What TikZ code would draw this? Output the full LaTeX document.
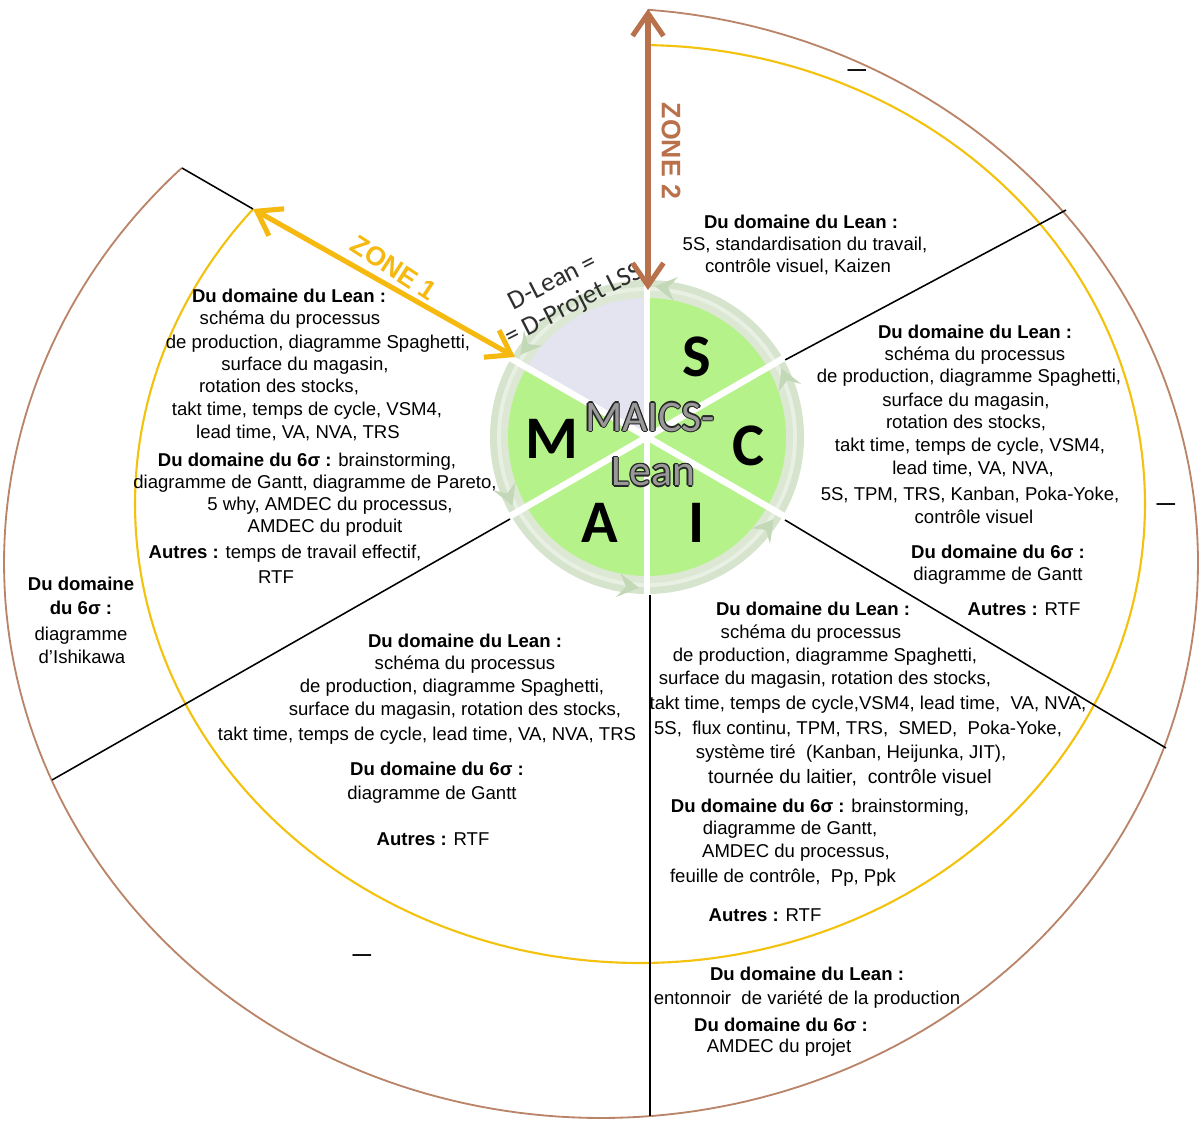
\documentclass[tikz,border=0pt]{standalone}
\usepackage{fontspec}
\setmainfont{Liberation Sans}
\newfontfamily\calib{Carlito}
\usetikzlibrary{arrows.meta}
\definecolor{pgreen}{HTML}{B6F28A}
\definecolor{pgrey}{HTML}{E4E4F0}
\definecolor{pring}{HTML}{D6E4CD}
\definecolor{ptip}{HTML}{C3D8B6}
\definecolor{zyellow}{HTML}{F5B90F}
\definecolor{eyellow}{HTML}{F2C20E}
\definecolor{zbrown}{HTML}{B9714C}
\definecolor{ebrown}{HTML}{BA8468}
\begin{document}
\begin{tikzpicture}[x=0.025cm,y=-0.025cm,
  t/.style={anchor=mid,inner sep=0pt,font=\fontsize{13.2}{16}\selectfont},
  sepline/.style={black,line width=1.1pt},
  zarrow/.style={line width=3.6pt,{Straight Barb[length=16pt,width=22pt]}-{Straight Barb[length=16pt,width=22pt]}},
  mtxt/.style={inner sep=0pt,font=\calib\fontsize{31}{34}\selectfont},
  letter/.style={inner sep=0pt,font=\calib\bfseries\fontsize{43}{43}\selectfont},
  ztxt/.style={inner sep=0pt,font=\bfseries\fontsize{19}{19}\selectfont},
  dashmark/.style={inner sep=0pt,font=\bfseries\fontsize{13.2}{16}\selectfont}]
\useasboundingbox[fill=white] (0,0) rectangle (1201,1120);

% outer arcs
\draw[ebrown,line width=1.3pt] plot[domain=85.5:-225.4,samples=240] ({601+597*cos(\x)},{563-555*sin(\x)});
\draw[eyellow,line width=1.5pt] plot[domain=89:-220,samples=240] ({640+505*cos(\x)},{504-459*sin(\x)});

% coordinates
\coordinate (O) at (647,437);
\coordinate (yl) at (253,209);
\coordinate (bl) at (182,168);
\coordinate (urA) at (785,360); \coordinate (urB) at (1066,210);
\coordinate (lrA) at (785,520); \coordinate (lrB) at (1166,748);
\coordinate (bA) at (650,595);  \coordinate (bB) at (650,1116);
\coordinate (llA) at (510,519); \coordinate (llB) at (52,780);
\coordinate (z1B) at (515,357);
\coordinate (z2A) at (648,9); \coordinate (z2B) at (648,290);

% separator lines
\draw[sepline] (yl) -- (bl);
\draw[sepline] (urA) -- (urB);
\draw[sepline] (lrA) -- (lrB);
\draw[sepline] (bA) -- (bB);
\draw[sepline] (llA) -- (llB);

% pie
\fill[pring] (O) circle[radius=157];
\fill[white,opacity=0.45] (O) circle[radius=150];
\fill[pring!85!white] (O) circle[radius=146];
\fill[pgrey] (O) -- plot[domain=90:150,samples=30] ({647+139*cos(\x)},{437-139*sin(\x)}) -- cycle;
\foreach \a in {30,-30,-90,-150,150}
  \fill[pgreen] (O) -- plot[domain=\a:\a+60,samples=30] ({647+139*cos(\x)},{437-139*sin(\x)}) -- cycle;
\foreach \a in {90,30,-30,-90,-150,150}
  \draw[white,line width=4.6pt] (O) -- ({647+158*cos(\a)},{437-158*sin(\a)});
\foreach \a in {90,30,-30,-90,-150,150}
  \fill[ptip] ({647+151*cos(\a-3)},{437-151*sin(\a-3)}) -- ({647+163*cos(\a-11)},{437-163*sin(\a-11)}) -- ({647+151*cos(\a-8)},{437-151*sin(\a-8)}) -- ({647+139*cos(\a-11)},{437-139*sin(\a-11)}) -- cycle;

% letters
\node[letter] (S) at (697,357) {S};
\node[letter] (C) at (748,446) {C};
\node[letter] (I) at (697,523) {I};
\node[letter] (A) at (600,523) {A};
\node[letter] (M) at (552,439) {M};

% MAICS-Lean outlined text
\foreach \dx/\dy [count=\k] in {-1/0,1/0,0/-1,0/1,-0.7/-0.7,0.7/0.7,-0.7/0.7,0.7/-0.7}{
  \node[mtxt,text=black!85,xshift=\dx*0.9pt,yshift=\dy*0.9pt] (mo\k) at (650,417) {MAICS-};
  \node[mtxt,text=black!85,xshift=\dx*0.9pt,yshift=\dy*0.9pt] (lo\k) at (653,472) {Lean};}
\node[mtxt,text=black!40] (mc) at (650,417) {MAICS-};
\node[mtxt,text=black!40] (lc) at (653,472) {Lean};

% D-Lean label
\node[align=left,inner sep=0pt,rotate=27,text=black!82,font=\calib\fontsize{19}{21}\selectfont] (dl) at (568,292) {\hspace*{0.7em}D-Lean =\\= D-Projet LSS};

% zone arrows
\draw[zyellow,zarrow] (yl) -- (z1B);
\draw[zbrown,zarrow] (z2A) -- (z2B);
\node[ztxt,text=zyellow,rotate=-33] (z1) at (394,268) {ZONE 1};
\node[ztxt,text=zbrown,rotate=-90] (z2) at (671,151) {ZONE 2};

% dashes
\node[dashmark] (d1) at (857,73) {—};
\node[dashmark] (d2) at (1166,507) {—};
\node[dashmark] (d3) at (362,958) {—};

% S block
\foreach \x/\y/\s [count=\i] in {
  801/225/{\textbf{Du domaine du Lean :}},
  805/247/{5S, standardisation du travail,},
  798/269/{contrôle visuel, Kaizen}}
  \node[t] (s\i) at (\x,\y) {\s};

% C block
\foreach \x/\y/\s [count=\i] in {
  975/335/{\textbf{Du domaine du Lean :}},
  975/357/{schéma du processus},
  969/379/{de production, diagramme Spaghetti,},
  966/403/{surface du magasin,},
  966/425/{rotation des stocks,},
  970/448/{takt time, temps de cycle, VSM4,},
  973/471/{lead time, VA, NVA,},
  970/497/{5S, TPM, TRS, Kanban, Poka-Yoke,},
  974/520/{contrôle visuel},
  998/555/{\textbf{Du domaine du 6σ :}},
  998/577/{diagramme de Gantt},
  1024/612/{\textbf{Autres :} RTF}}
  \node[t] (c\i) at (\x,\y) {\s};

% M block
\foreach \x/\y/\s [count=\i] in {
  289/299/{\textbf{Du domaine du Lean :}},
  290/321/{schéma du processus},
  318/345/{de production, diagramme Spaghetti,},
  305/367/{surface du magasin,},
  279/389/{rotation des stocks,},
  307/412/{takt time, temps de cycle, VSM4,},
  298/435/{lead time, VA, NVA, TRS},
  307/463/{\textbf{Du domaine du 6σ :} brainstorming,},
  315/485/{diagramme de Gantt, diagramme de Pareto,},
  330/507/{5 why, AMDEC du processus,},
  325/529/{AMDEC du produit},
  285/555/{\textbf{Autres :} temps de travail effectif,},
  276/580/{RTF}}
  \node[t] (m\i) at (\x,\y) {\s};

% A block
\foreach \x/\y/\s [count=\i] in {
  465/644/{\textbf{Du domaine du Lean :}},
  465/666/{schéma du processus},
  452/689/{de production, diagramme Spaghetti,},
  455/712/{surface du magasin, rotation des stocks,},
  427/737/{takt time, temps de cycle, lead time, VA, NVA, TRS},
  437/772/{\textbf{Du domaine du 6σ :}},
  432/796/{diagramme de Gantt},
  433/842/{\textbf{Autres :} RTF}}
  \node[t] (a\i) at (\x,\y) {\s};

% I block
\foreach \x/\y/\s [count=\i] in {
  813/612/{\textbf{Du domaine du Lean :}},
  811/635/{schéma du processus},
  825/658/{de production, diagramme Spaghetti,},
  825/681/{surface du magasin, rotation des stocks,},
  868/706/{takt time, temps de cycle,VSM4, lead time,\ \ VA, NVA,},
  858/731/{5S,\ \ flux continu, TPM, TRS,\ \ SMED,\ \ Poka-Yoke,},
  851/755/{système tiré\ \ (Kanban, Heijunka, JIT),},
  850/780/{\fontsize{13.8}{16}\selectfont tournée du laitier,\ \ contrôle visuel},
  820/809/{\textbf{Du domaine du 6σ :} brainstorming,},
  790/831/{diagramme de Gantt,},
  796/854/{AMDEC du processus,},
  783/879/{feuille de contrôle,\ \ Pp, Ppk},
  765/918/{\textbf{Autres :} RTF}}
  \node[t] (i\i) at (\x,\y) {\s};

% left outer block
\foreach \x/\y/\s [count=\i] in {
  81/587/{\textbf{Du domaine}},
  81/611/{\textbf{du 6σ :}},
  81/637/{diagramme},
  82/660/{d’Ishikawa}}
  \node[t] (l\i) at (\x,\y) {\s};

% bottom outer block
\foreach \x/\y/\s [count=\i] in {
  807/977/{\textbf{Du domaine du Lean :}},
  807/1001/{entonnoir\ \ de variété de la production},
  781/1028/{\textbf{Du domaine du 6σ :}},
  779/1049/{AMDEC du projet}}
  \node[t] (b\i) at (\x,\y) {\s};
\end{tikzpicture}
\end{document}
